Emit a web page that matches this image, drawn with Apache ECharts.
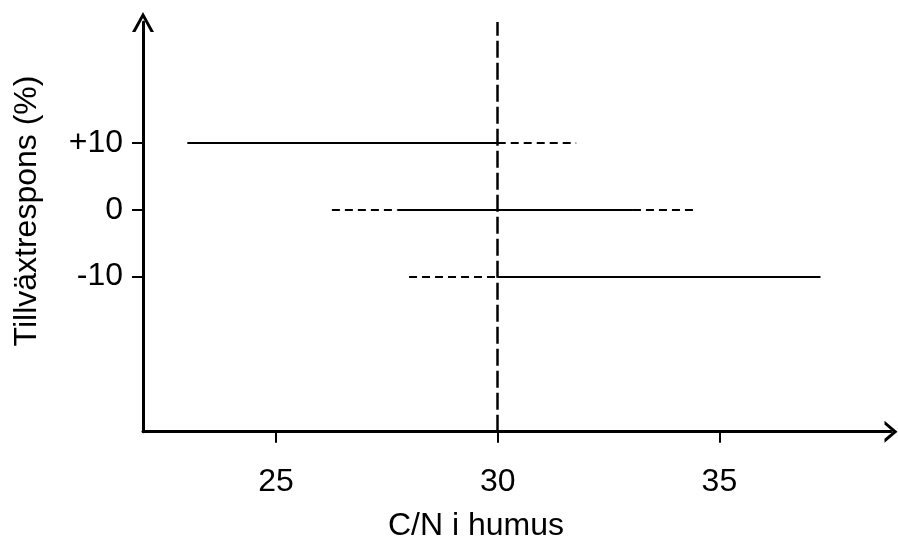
<!DOCTYPE html>
<html>
<head>
<meta charset="utf-8">
<script src="https://cdn.jsdelivr.net/npm/echarts@6/dist/echarts.min.js"></script>
<style>
html,body{margin:0;padding:0;background:#fff;}
#chart{width:898px;height:541px;}
</style>
</head>
<body>
<div id="chart"></div>
<script>
// ---- data ----
const rowValues = [10, 0, -10];
const solidStart = [23.0, 27.74, 30.0];
const solidEnd = [30.0, 33.05, 37.28];
const dashLeftStart = [null, 26.26, 28.0];
const dashLeftEnd = [null, 27.74, 30.0];
const dashRightStart = [30.0, 33.05, null];
const dashRightEnd = [31.77, 34.43, null];
const refX = 30;
const xTickValues = [25, 30, 35];
const yTickValues = [-10, 0, 10];
const yTickLabels = ['-10', '0', '+10'];
const xTitle = 'C/N i humus';
const yTitle = 'Tillväxtrespons (%)';
const xRange = [22, 38.87];
const yRange = [-33.3, 28.2];

// ---- build ----
const FONT = "'Liberation Sans', Arial, Helvetica, sans-serif";
const solidSegs = [], dashSegs = [];
rowValues.forEach((y, i) => {
  if (solidStart[i] != null) solidSegs.push({coords: [[solidStart[i], y], [solidEnd[i], y]]});
  if (dashLeftStart[i] != null) dashSegs.push({coords: [[dashLeftStart[i], y], [dashLeftEnd[i], y]]});
  if (dashRightStart[i] != null) dashSegs.push({coords: [[dashRightStart[i], y], [dashRightEnd[i], y]]});
});
const refSeg = [{coords: [[refX, yRange[0]], [refX, yRange[1]]]}];

// open chevron arrows (pointing up; rotated by the axis)
const arrowY = 'path://M0,20 L11,0 L22,20 L18.6,20 L11,6 L3.4,20 Z';
const arrowX = 'path://M0,13 L11,0 L22,13 L18.1,13 L11,4.6 L3.9,13 Z';

const chart = echarts.init(document.getElementById('chart'), null, {renderer: 'canvas'});
chart.setOption({
  animation: false,
  backgroundColor: '#ffffff',
  grid: {left: 143, right: 7, top: 22, bottom: 109.3, containLabel: false},
  xAxis: {
    type: 'value', min: xRange[0], max: xRange[1],
    splitLine: {show: false},
    axisLine: {show: true, onZero: false, symbol: ['none', arrowX], symbolSize: [22, 13],
      lineStyle: {color: '#000', width: 3}},
    axisTick: {show: true, length: 11, inside: false, customValues: xTickValues,
      lineStyle: {color: '#000', width: 2}},
    axisLabel: {show: true, customValues: xTickValues, margin: 34, color: '#000',
      fontFamily: FONT, fontSize: 32}
  },
  yAxis: {
    type: 'value', min: yRange[0], max: yRange[1],
    splitLine: {show: false},
    axisLine: {show: true, onZero: false, symbol: ['none', arrowY], symbolSize: [22, 20],
      lineStyle: {color: '#000', width: 3}},
    axisTick: {show: true, length: 11, inside: false, customValues: yTickValues,
      lineStyle: {color: '#000', width: 2}},
    axisLabel: {show: true, customValues: yTickValues, margin: 20, color: '#000',
      fontFamily: FONT, fontSize: 32,
      formatter: function (v) { const k = yTickValues.indexOf(v); return k >= 0 ? yTickLabels[k] : ''; }}
  },
  graphic: [
    {type: 'text', x: 476, y: 526, style: {text: xTitle, font: '32px ' + FONT, fill: '#000',
      textAlign: 'center', textVerticalAlign: 'middle'}},
    {type: 'text', x: 27, y: 211, rotation: Math.PI / 2, style: {text: yTitle, font: '32px ' + FONT,
      fill: '#000', textAlign: 'center', textVerticalAlign: 'middle'}}
  ],
  series: [
    {type: 'lines', coordinateSystem: 'cartesian2d', data: refSeg, silent: true, z: 3,
      lineStyle: {color: '#000', width: 2.5, type: [17, 5], opacity: 1}},
    {type: 'lines', coordinateSystem: 'cartesian2d', data: solidSegs, silent: true, z: 4,
      lineStyle: {color: '#000', width: 2, type: 'solid', opacity: 1}},
    {type: 'lines', coordinateSystem: 'cartesian2d', data: dashSegs, silent: true, z: 4,
      lineStyle: {color: '#000', width: 2, type: [8, 5], opacity: 1}}
  ]
});
</script>
</body>
</html>
